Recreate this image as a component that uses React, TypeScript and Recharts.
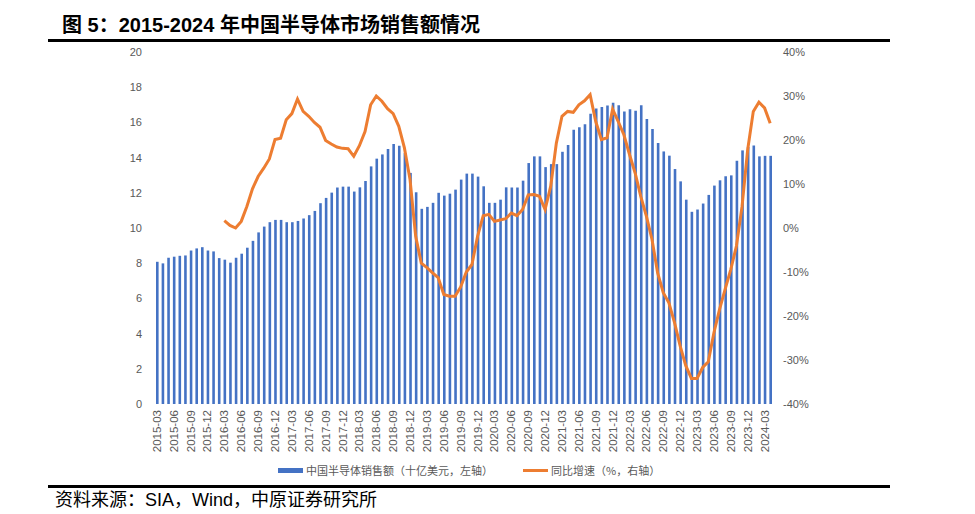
import React from 'react';
import { ComposedChart, Bar, Line, XAxis, YAxis } from 'recharts';

// 2015-03 .. 2024-04, monthly
const months: string[] = [];
for (let y = 2015; y <= 2024; y++) {
  for (let m = 1; m <= 12; m++) {
    if (y === 2015 && m < 3) continue;
    if (y === 2024 && m > 4) continue;
    months.push(`${y}-${String(m).padStart(2, '0')}`);
  }
}

// 中国半导体销售额（十亿美元）
const sales = [
  8.08, 7.99, 8.31, 8.37, 8.42, 8.44, 8.72, 8.84, 8.91, 8.72, 8.67, 8.29,
  8.2, 8.03, 8.31, 8.54, 8.88, 9.27, 9.75, 10.08, 10.33, 10.46, 10.46, 10.33,
  10.33, 10.4, 10.54, 10.73, 10.97, 11.41, 11.71, 12.01, 12.3, 12.35, 12.35, 12.07,
  12.31, 12.67, 13.5, 13.94, 14.18, 14.49, 14.77, 14.67, 14.25, 13.13, 12.03, 11.09,
  11.2, 11.43, 12.0, 11.84, 11.95, 12.18, 12.75, 13.09, 13.09, 12.92, 12.37, 11.43,
  11.43, 11.61, 12.31, 12.3, 12.3, 12.69, 13.69, 14.07, 14.07, 13.46, 13.63, 13.63,
  14.33, 14.71, 15.58, 15.73, 15.9, 16.49, 16.79, 16.88, 16.96, 17.11, 16.98, 16.62,
  16.75, 16.66, 16.98, 16.2, 15.62, 14.83, 14.35, 14.11, 13.35, 12.65, 11.61, 10.92,
  11.05, 11.39, 11.88, 12.41, 12.71, 12.94, 12.99, 13.82, 14.41, 14.6, 14.69, 14.07,
  14.1, 14.1,
];

// 同比增速（%），2016-03 起
const growth: (number | null)[] = [
  null, null, null, null, null, null, null, null, null, null, null, null,
  1.7, 0.6, 0.0, 1.5, 4.9, 8.9, 11.7, 13.6, 15.7, 20.1, 20.4, 24.6,
  26.0, 29.3, 26.5, 25.4, 24.0, 22.9, 19.9, 19.1, 18.4, 18.1, 18.0, 16.3,
  18.7, 21.9, 28.0, 30.0, 28.8, 27.1, 26.0, 23.1, 18.2, 11.0, -1.9, -8.0,
  -9.0, -10.2, -11.3, -15.1, -15.5, -15.5, -13.4, -10.0, -8.3, -1.9, 2.8, 3.1,
  1.5, 1.8, 2.1, 3.4, 2.8, 4.2, 7.5, 7.6, 7.2, 4.2, 9.5, 19.3,
  25.4, 26.5, 26.3, 28.0, 28.9, 30.3, 24.2, 20.1, 20.5, 27.0, 24.2, 21.2,
  16.7, 12.5, 7.2, 2.7, -2.6, -10.2, -14.7, -17.0, -21.5, -26.8, -31.3, -34.2,
  -34.2, -31.7, -30.4, -23.8, -18.5, -13.9, -9.4, -4.1, 4.9, 17.8, 26.5, 28.6,
  27.3, 23.8,
];

const leftTicks = [0, 2, 4, 6, 8, 10, 12, 14, 16, 18, 20];
const rightTicks = [-40, -30, -20, -10, 0, 10, 20, 30, 40];

const data = months.map((m, i) => ({ month: m, sales: sales[i], growth: growth[i] }));

const tickStyle = { fill: '#595959', fontSize: 11, fontFamily: 'Liberation Sans, Arial, sans-serif' };

const MonthTick = (props: any) => {
  const { x, y, payload } = props;
  return (
    <text
      x={x}
      y={y}
      transform={`rotate(-90 ${x} ${y})`}
      textAnchor="end"
      dominantBaseline="central"
      {...tickStyle}
      fontSize={11.5}
    >
      {payload.value}
    </text>
  );
};

export default function App() {
  const cjk = '"Liberation Sans", Arial, "Noto Sans CJK SC", sans-serif';
  const legendText: React.CSSProperties = {
    position: 'absolute', top: 463, fontFamily: '"Noto Sans CJK SC", sans-serif', fontSize: 11,
    color: '#595959', whiteSpace: 'nowrap', lineHeight: '15px',
  };
  return (
    <div style={{ position: 'absolute', left: 0, top: 0, width: 975, height: 514, background: '#fff', overflow: 'hidden' }}>
      {/* title */}
      <div style={{ position: 'absolute', left: 62, top: 13, fontFamily: cjk, fontWeight: 'bold', fontSize: 20, color: '#000', whiteSpace: 'nowrap', lineHeight: '24px' }}>
        图 5：2015-2024 年中国半导体市场销售额情况
      </div>
      <div style={{ position: 'absolute', left: 48, top: 39, width: 842, height: 3, background: '#000' }} />

      <div style={{ position: 'absolute', left: 0, top: 0 }}>
        <ComposedChart width={975} height={514} data={data} margin={{ top: 52, right: 0, bottom: 50, left: 0 }}>
          <XAxis
            dataKey="month"
            interval={2}
            tick={<MonthTick />}
            tickLine={false}
            tickSize={0}
            tickMargin={6}
            axisLine={false}
            height={60}
          />
          <YAxis
            yAxisId="left"
            domain={[0, 20]}
            ticks={leftTicks}
            width={154}
            axisLine={false}
            tickLine={false}
            tickMargin={6}
            tick={tickStyle}
          />
          <YAxis
            yAxisId="right"
            orientation="right"
            domain={[-40, 40]}
            ticks={rightTicks}
            tickFormatter={(v) => `${v}%`}
            width={202}
            axisLine={false}
            tickLine={false}
            tickMargin={4}
            tick={tickStyle}
          />
          <Bar yAxisId="left" dataKey="sales" fill="#4472C4" barSize={2.6} isAnimationActive={false} />
          <Line
            yAxisId="right"
            dataKey="growth"
            stroke="#ED7D31"
            strokeWidth={3}
            dot={false}
            type="linear"
            connectNulls={false}
            isAnimationActive={false}
          />
        </ComposedChart>
      </div>

      {/* legend */}
      <div style={{ position: 'absolute', left: 278, top: 468, width: 25, height: 5, background: '#4472C4' }} />
      <div style={{ ...legendText, left: 306 }}>中国半导体销售额（十亿美元，左轴）</div>
      <div style={{ position: 'absolute', left: 523, top: 469, width: 25, height: 3, background: '#ED7D31' }} />
      <div style={{ ...legendText, left: 551 }}>同比增速（%，右轴）</div>

      {/* footer */}
      <div style={{ position: 'absolute', left: 48, top: 485, width: 842, height: 3, background: '#000' }} />
      <div style={{ position: 'absolute', left: 55, top: 489, fontFamily: cjk, fontSize: 18, color: '#000', whiteSpace: 'nowrap', lineHeight: '22px' }}>
        资料来源：SIA，Wind，中原证券研究所
      </div>
    </div>
  );
}
